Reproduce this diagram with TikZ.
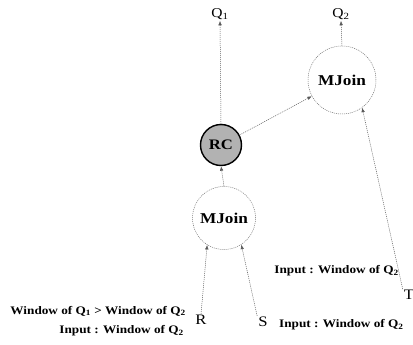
\documentclass[tikz,border=0pt]{standalone}
\usepackage{fontspec}
\setmainfont{Liberation Serif}[FakeStretch=1.15]
\usetikzlibrary{arrows.meta}
\tikzset{
  flow/.style={draw=black!65, line width=0.5pt, dash pattern=on 1pt off 1pt,
    -{Latex[length=4.5pt,width=3.5pt]}},
  opnode/.style={circle, draw=black!55, line width=0.5pt, dash pattern=on 1pt off 1pt,
    minimum size=#1, inner sep=0pt, font=\bfseries\fontsize{15}{15}\selectfont},
  rcnode/.style={circle, draw=black, line width=1.4pt, fill=black!30,
    minimum size=41pt, inner sep=0pt, font=\bfseries\fontsize{14.5}{14.5}\selectfont},
  qlabel/.style={font=\fontsize{13.5}{13.5}\selectfont, inner sep=1pt},
  rel/.style={font=\fontsize{14.5}{14.5}\selectfont, inner sep=1pt},
  note/.style={font=\bfseries\fontsize{11.5}{11.5}\selectfont, inner sep=0pt}
}
\begin{document}
\begin{tikzpicture}[x=1pt,y=-1pt]
\useasboundingbox (0,0) rectangle (413,345);

% query outputs
\node[qlabel] (q1) at (220,14) {Q\textsubscript{1}};
\node[qlabel] (q2) at (341,14) {Q\textsubscript{2}};

% operators
\node[rcnode] (rc) at (221,145) {RC};
\node[opnode=68pt] (mj2) at (342,80) {MJoin};
\node[opnode=63pt] (mj1) at (224,218) {MJoin};

% input streams
\node[rel] (r) at (201,320) {R};
\node[rel] (s) at (263,322) {S};
\node[rel] (t) at (409,295) {T};

% data flow
\draw[flow] (rc.north) -- (q1.south);
\draw[flow] (mj2.north) -- (q2.south);
\draw[flow] (rc) -- (mj2);
\draw[flow] (mj1.north) -- (rc.south);
\draw[flow] (r.north) -- (mj1.238);
\draw[flow] (s.north west) -- (mj1.303);
\draw[flow] (t.north west) -- (mj2.306);

% window annotations
\node[note, anchor=east] (wr1) at (186,311) {Window of Q\textsubscript{1} > Window of Q\textsubscript{2}};
\node[note, anchor=east] (wr2) at (184,331) {Input : Window of Q\textsubscript{2}};
\node[note, anchor=west] (ws) at (279,325) {Input : Window of Q\textsubscript{2}};
\node[note, anchor=east] (wt) at (399,271) {Input : Window of Q\textsubscript{2}};
\end{tikzpicture}
\end{document}
